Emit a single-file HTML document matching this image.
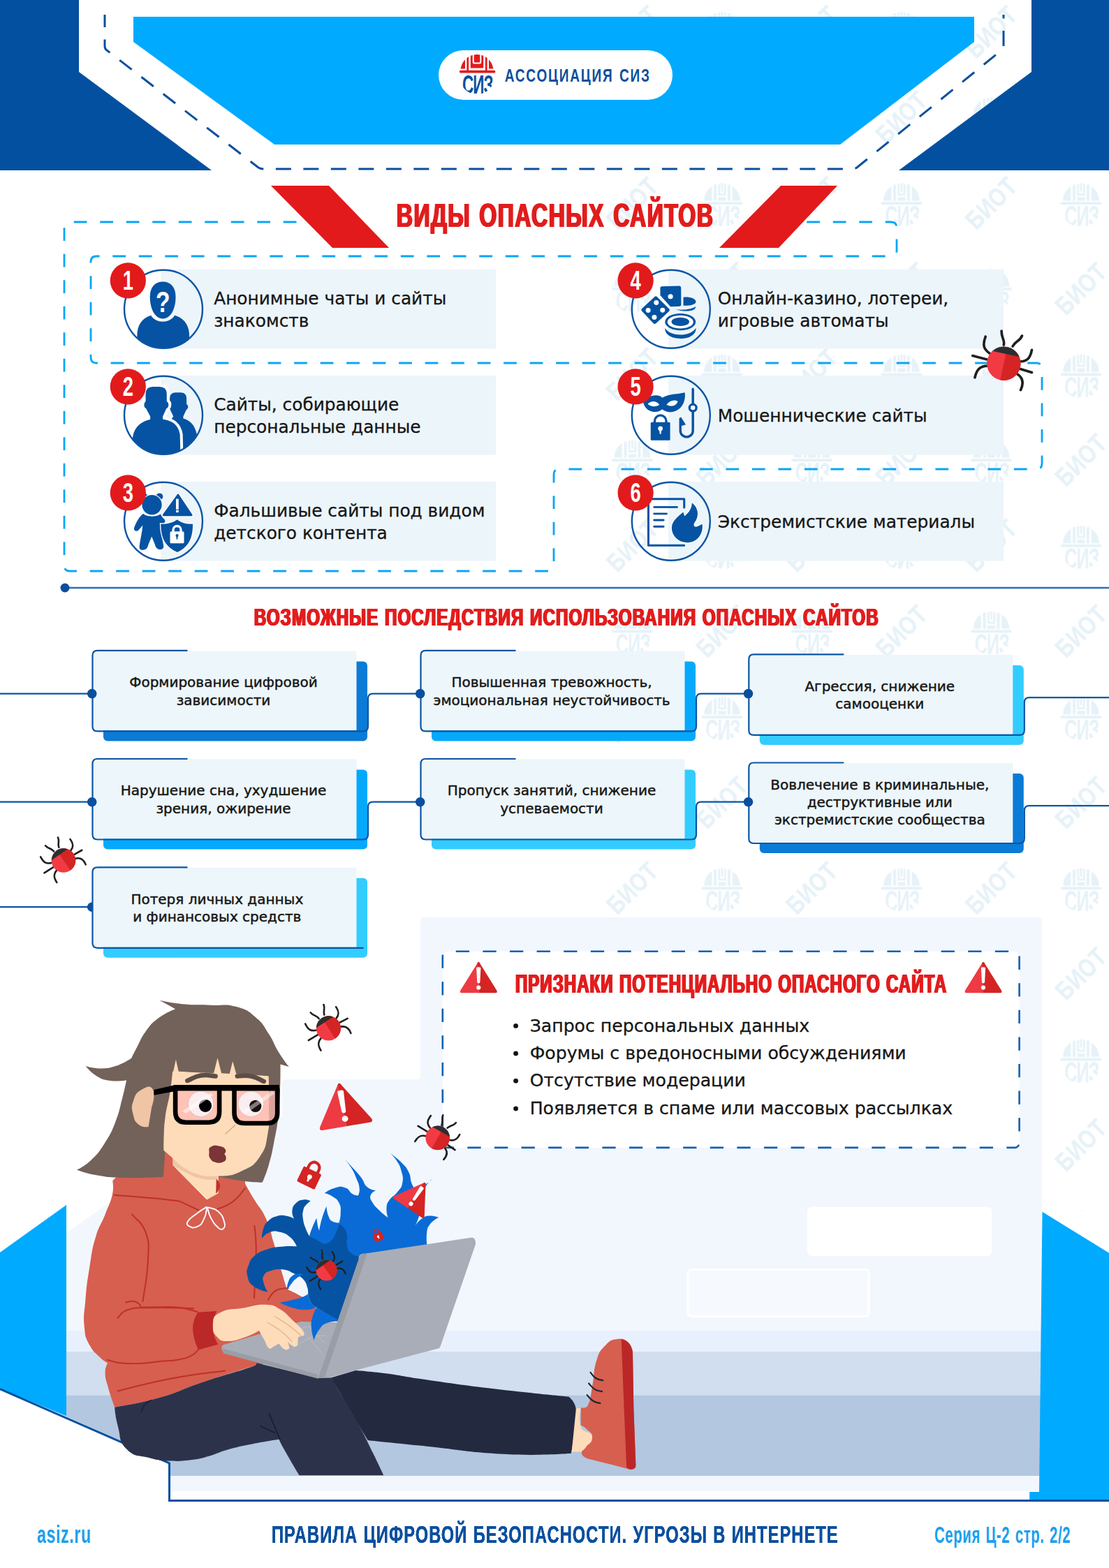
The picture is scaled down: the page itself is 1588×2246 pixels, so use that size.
<!DOCTYPE html>
<html lang="ru">
<head>
<meta charset="utf-8">
<title>Правила цифровой безопасности. Угрозы в интернете</title>
<style>
html,body{margin:0;padding:0;background:#fff;}
body{width:1588px;height:2246px;overflow:hidden;font-family:"DejaVu Sans","Liberation Sans",sans-serif;}
svg{display:block;position:absolute;left:0;top:0;}
.hd{font-family:"DejaVu Sans Condensed","DejaVu Sans","Liberation Sans",sans-serif;font-weight:700;}
.hl{font-family:"Liberation Sans","DejaVu Sans",sans-serif;font-weight:700;}
.bt{font-family:"DejaVu Sans","Liberation Sans",sans-serif;font-weight:400;fill:#161616;stroke:#161616;stroke-width:.3px;}
.bm{stroke-width:.45px;}
</style>
</head>
<body>
<svg width="1588" height="2246" viewBox="0 0 1588 2246">
<defs>
<filter id="fatx" x="-3%" y="-30%" width="106%" height="160%"><feOffset in="SourceGraphic" dx="-0.8" result="a"/><feOffset in="SourceGraphic" dx="0.8" result="b"/><feMerge><feMergeNode in="a"/><feMergeNode in="b"/><feMergeNode in="SourceGraphic"/></feMerge></filter>
<filter id="fatx2" x="-3%" y="-30%" width="106%" height="160%"><feOffset in="SourceGraphic" dx="-0.45" result="a"/><feOffset in="SourceGraphic" dx="0.45" result="b"/><feMerge><feMergeNode in="a"/><feMergeNode in="b"/><feMergeNode in="SourceGraphic"/></feMerge></filter>
</defs>

<defs>
<clipPath id="wmclip"><circle cx="0" cy="5.8" r="24.8"/></clipPath>
<g id="wmlogo" fill="#e6f2f8" transform="scale(1.13)">
<path d="M-23,-3 A23,23 0 0 1 -13,-21.500 V-3 Z"/>
<rect x="-10.500" y="-23.500" width="3.500" height="20.500"/>
<path d="M-5,-24.500 H-2.500 V-12 H2.500 V-24.500 H5 V-9.500 H-5 Z"/>
<rect x="-1.200" y="-25.500" width="2.400" height="11" rx="1"/>
<rect x="7" y="-23.500" width="3.500" height="20.500"/>
<path d="M23,-3 A23,23 0 0 0 13,-21.500 V-3 Z"/>
<rect x="-5" y="-7.500" width="10" height="4.500"/>
<rect x="-26" y="-1.500" width="52" height="3.500" rx="1.500"/>
<g clip-path="url(#wmclip)"><text x="0" y="0" font-family="'Liberation Sans','DejaVu Sans',sans-serif" font-weight="700" font-size="37.5" letter-spacing="-1.5" text-anchor="middle" transform="translate(0.8,29.3) scale(0.6,1)">СИЗ</text></g>
</g>
<g id="wmtext"><text x="0" y="0" transform="rotate(-45) scale(0.8,1)" font-family="'Liberation Sans','DejaVu Sans',sans-serif" font-weight="700" font-size="37" letter-spacing="1" fill="#e6f2f8" stroke="#e6f2f8" stroke-width="0.4" text-anchor="middle" dominant-baseline="central">БИОТ</text></g>
<pattern id="wm" x="905.500" y="168.300" width="257" height="245.300" patternUnits="userSpaceOnUse">
<use href="#wmlogo" transform="translate(128.5,122.65)"/>
<use href="#wmlogo" transform="translate(257,245.3)"/>
<use href="#wmlogo" transform="translate(0,245.3)"/>
<use href="#wmlogo" transform="translate(0,0)"/>
<use href="#wmlogo" transform="translate(257,0)"/>
<use href="#wmtext" transform="translate(128.5,0)"/>
<use href="#wmtext" transform="translate(128.5,245.3)"/>
<use href="#wmtext" transform="translate(0,122.65)"/>
<use href="#wmtext" transform="translate(257,122.65)"/>
</pattern>
</defs>
<rect x="860" y="0" width="728" height="1735" fill="url(#wm)"/>

<!-- header -->
<g id="header">
<polygon points="0,0 113,0 113,103 303,244 0,244" fill="#0450a0"/>
<polygon points="1477,0 1588,0 1588,244 1287,244 1477,103" fill="#0450a0"/>
<polygon points="191,24 1395,24 1395,60 1203,207 393,207 191,60" fill="#00aaff"/>
<path d="M150,21 V66 Q150,70 153,72 L370,240 Q373,242 377,242 H1220 Q1224,242 1227,240 L1434,72 Q1437,70 1437,66 V21" fill="none" stroke="#0a4f9e" stroke-width="3" stroke-dasharray="22 17.5" stroke-dashoffset="4"/>
<rect x="628" y="72" width="335" height="71" rx="35.5" fill="#fff"/>
</g>

<g id="logo">
<defs><clipPath id="lgclip"><path d="M659.500,101.500 A23.500,23.500 0 0 1 706.500,101.500 Z"/></clipPath>
<clipPath id="lgclip2"><circle cx="683" cy="110.3" r="24.8"/></clipPath></defs>
<g clip-path="url(#lgclip)" fill="#e21a1c">
<rect x="659" y="76" width="7" height="22.500"/>
<rect x="668.400" y="76" width="2.700" height="26"/>
<rect x="694.900" y="76" width="2.700" height="26"/>
<rect x="700" y="76" width="7" height="22.500"/>
<path d="M673.800,76 H676.700 V89 Q676.700,91.500 679.200,91.500 H686.800 Q689.300,91.500 689.300,89 V76 H692.200 V97.500 H673.800 Z"/>
<rect x="678.700" y="77.500" width="8.600" height="12" rx="1.500"/>
</g>
<rect x="657.800" y="100.800" width="51.600" height="3.700" rx="1.800" fill="#e21a1c"/>
<g clip-path="url(#lgclip2)">
<text x="0" y="0" font-family="'Liberation Sans','DejaVu Sans',sans-serif" font-weight="700" font-size="37.5" fill="#0a4f9e" text-anchor="middle" letter-spacing="-1.5" transform="translate(683.8,133.8) scale(0.6,1)">СИЗ</text>
</g>
</g>

<g id="items">
<path d="M470,318 H100 Q92,318 92,326 V810 Q92,818 100,818 H785 Q793,818 793,810 V680 Q793,672 801,672 H1484 Q1492,672 1492,664 V528 Q1492,520 1484,520 H138 Q130,520 130,512 V375 Q130,367 138,367 H1276 Q1284,367 1284,359 V326 Q1284,318 1276,318 H1125" fill="none" stroke="#0aa6f6" stroke-width="2.8" stroke-dasharray="18.75 18.75" stroke-dashoffset="-8"/>
<rect x="230.3" y="386.0" width="480" height="113.5" fill="#ecf5fa"/>
<text class="bt" x="306.2" y="436.1" font-size="24.8">Анонимные чаты и сайты</text>
<text class="bt" x="306.2" y="468.0" font-size="24.8">знакомств</text>
<rect x="230.3" y="538.0" width="480" height="113.5" fill="#ecf5fa"/>
<text class="bt" x="306.2" y="588.1" font-size="24.8">Сайты, собирающие</text>
<text class="bt" x="306.2" y="620.0" font-size="24.8">персональные данные</text>
<rect x="230.3" y="690.0" width="480" height="113.5" fill="#ecf5fa"/>
<text class="bt" x="306.2" y="740.1" font-size="24.8">Фальшивые сайты под видом</text>
<text class="bt" x="306.2" y="772.0" font-size="24.8">детского контента</text>
<rect x="957.1" y="386.0" width="480" height="113.5" fill="#ecf5fa"/>
<text class="bt" x="1027.8" y="436.1" font-size="24.8">Онлайн-казино, лотереи,</text>
<text class="bt" x="1027.8" y="468.0" font-size="24.8">игровые автоматы</text>
<rect x="957.1" y="538.0" width="480" height="113.5" fill="#ecf5fa"/>
<text class="bt" x="1027.8" y="604.0" font-size="24.8">Мошеннические сайты</text>
<rect x="957.1" y="690.0" width="480" height="113.5" fill="#ecf5fa"/>
<text class="bt" x="1027.8" y="756.0" font-size="24.8">Экстремистские материалы</text>
</g>
<g id="paras">
<polygon points="388,266 471,266 557,355 476,355" fill="#e21a1c"/>
<polygon points="1118,266 1199,266 1115,355 1030,355" fill="#e21a1c"/>
</g>

<g id="icons" fill="#0653a3">
<defs>
<clipPath id="icclip"><circle cx="892.5" cy="770" r="600"/></clipPath>
</defs>
<!-- icon 1: anonymous person -->
<g transform="translate(150,370) scale(0.094455)">
<g clip-path="url(#icclip)">
<path d="M700,865 C560,905 480,1030 492,1200 L560,1450 L1220,1450 L1282,1200 C1290,1030 1210,905 1060,865 C1020,930 950,960 880,960 C810,960 740,930 700,865 Z"/>
</g>
<path d="M880,355 C1000,355 1075,440 1075,585 C1075,765 1000,915 880,915 C760,915 685,765 685,585 C685,440 760,355 880,355 Z"/>
</g>
<text x="233.2" y="447" font-family="'Liberation Sans','DejaVu Sans',sans-serif" font-weight="700" font-size="42" fill="#fff" text-anchor="middle" transform="translate(233.2,0) scale(0.8,1) translate(-233.2,0)">?</text>
<!-- icon 2: two people -->
<g transform="translate(150,522) scale(0.094455)">
<g clip-path="url(#icclip)">
<path d="M1075,425 H1150 Q1240,425 1240,515 V600 Q1272,620 1260,662 Q1252,682 1235,690 L1190,790 V820 C1290,845 1370,920 1395,1060 L1400,1400 L1100,1400 L1010,830 L1040,790 L980,660 Q968,640 985,600 V515 Q985,425 1075,425 Z"/>
<path d="M730,340 H830 Q940,340 940,450 V560 Q978,580 962,640 Q952,662 935,668 L880,790 V830 C1010,850 1110,900 1140,1060 L1150,1450 L400,1450 L425,1100 C445,950 560,860 690,835 V790 L625,668 Q593,650 598,600 Q605,570 620,560 V450 Q620,340 730,340 Z" stroke="#fff" stroke-width="84" paint-order="stroke"/>
</g>
</g>
<!-- icon 3: teddy + warning + shield -->
<g transform="translate(150,674) scale(0.094455)">
<circle cx="830" cy="395" r="52"/>
<circle cx="600" cy="400" r="52"/>
<path d="M585,655 C520,700 470,800 445,870 C435,915 485,935 515,900 L575,830 C565,950 537,1050 525,1150 C520,1200 560,1212 600,1202 C640,1195 650,1160 662,1120 L712,1000 L760,1120 C772,1170 800,1202 850,1197 C890,1190 897,1160 887,1120 L835,830 L905,790 C925,770 912,740 882,720 L842,660 C800,705 640,712 585,655 Z"/>
<circle cx="715" cy="520" r="150" stroke="#fff" stroke-width="26" paint-order="stroke"/>
<path d="M1100,360 Q1112,345 1124,362 L1325,665 Q1338,690 1310,692 H895 Q866,690 880,665 Z" stroke="#fff" stroke-width="24" paint-order="stroke"/>
<rect x="1080" y="430" width="40" height="160" rx="6" fill="#fff"/>
<rect x="1080" y="600" width="40" height="36" rx="6" fill="#fff"/>
<path d="M1100,745 C1020,800 930,815 850,810 C850,1000 900,1150 1100,1240 C1290,1150 1335,1000 1335,810 C1260,815 1170,800 1100,745 Z" stroke="#fff" stroke-width="30" paint-order="stroke"/>
<rect x="990" y="925" width="212" height="178" rx="16" fill="#fff"/>
<path d="M1038,930 V900 A58,58 0 0 1 1154,900 V930" fill="none" stroke="#fff" stroke-width="36"/>
<circle cx="1096" cy="985" r="22"/>
<path d="M1082,990 H1110 L1103,1045 H1089 Z"/>
</g>
<!-- icon 4: dice + chips -->
<g transform="translate(876,370) scale(0.094455)">
<path d="M1085,590 C1180,580 1275,610 1275,660 C1275,700 1200,722 1085,718 Z"/>
<path d="M950,770 C1050,790 1200,780 1272,730 C1280,790 1150,830 950,770 Z"/>
<path d="M760,425 L1025,418 Q1050,418 1050,445 L1052,700 Q1052,728 1025,728 L890,732 L735,560 L735,450 Q735,425 760,425 Z"/>
<circle cx="890" cy="580" r="38" fill="#fff"/>
<path d="M648,585 Q668,565 688,585 L868,765 Q888,785 868,805 L672,985 Q650,1005 630,985 L455,800 Q437,780 457,762 Z" stroke="#fff" stroke-width="22" paint-order="stroke"/>
<circle cx="675" cy="672" r="37" fill="#fff"/>
<circle cx="552" cy="790" r="37" fill="#fff"/>
<circle cx="770" cy="785" r="37" fill="#fff"/>
<circle cx="645" cy="895" r="37" fill="#fff"/>
<path d="M808,1060 C850,1130 950,1160 1040,1160 C1130,1160 1240,1125 1275,1055 C1285,1150 1180,1218 1040,1218 C900,1218 800,1150 808,1060 Z"/>
<ellipse cx="1040" cy="965" rx="232" ry="128"/>
<ellipse cx="1040" cy="965" rx="196" ry="100" fill="#fff"/>
<ellipse cx="1040" cy="962" rx="135" ry="66"/>
</g>
<!-- icon 5: mask + lock + hook -->
<g transform="translate(876,522) scale(0.094455)">
<path d="M480,590 C470,500 690,420 765,505 C860,445 1000,450 1108,425 C1125,560 1060,700 905,722 C845,728 795,705 765,680 C730,712 680,728 620,716 C540,700 500,650 480,590 Z"/>
<path d="M545,602 C590,545 680,545 722,612 C680,645 600,652 545,602 Z" fill="#fff"/>
<path d="M830,612 C880,542 950,530 1002,560 C980,625 900,652 830,612 Z" fill="#fff"/>
<rect x="590" y="875" width="295" height="277" rx="16"/>
<path d="M650,885 V860 A88,88 0 0 1 826,860 V885" fill="none" stroke="#0653a3" stroke-width="36"/>
<circle cx="737" cy="972" r="36" fill="#fff"/>
<path d="M720,985 H754 L746,1055 H728 Z" fill="#fff"/>
<path d="M1230,372 V1005 A95,95 0 0 1 1040,1005 V830" fill="none" stroke="#0653a3" stroke-width="36" stroke-linecap="round"/>
<path d="M1022,815 L1050,800 L1122,912 L1058,932 Z"/>
<circle cx="1230" cy="657" r="52" fill="#fff" stroke="#0653a3" stroke-width="36"/>
</g>
<!-- icon 6: document + flame -->
<g transform="translate(876,674) scale(0.094455)">
<path d="M1098,560 V432 H555 V1135 H1098" fill="none" stroke="#0653a3" stroke-width="32" stroke-linecap="round" stroke-linejoin="round"/>
<path d="M642,555 H990 M642,655 H832 M642,752 H785 M642,850 H785" fill="none" stroke="#0653a3" stroke-width="30" stroke-linecap="round"/>
<path d="M1215,490 C1310,560 1335,690 1252,795 C1232,832 1252,862 1292,850 C1332,838 1358,812 1372,815 C1392,950 1300,1092 1150,1092 C1000,1092 900,980 910,850 C920,760 1000,700 1082,630 C1092,650 1097,670 1102,692 C1170,640 1215,570 1215,490 Z" stroke="#fff" stroke-width="30" paint-order="stroke"/>
</g>
</g>

<g id="itemtops">
<circle cx="234" cy="442.7" r="56" fill="none" stroke="#0a55a5" stroke-width="2.4"/>
<circle cx="183.3" cy="401.9" r="25.6" fill="#e21a1c"/>
<text class="hl" x="183.3" y="415.2" font-size="38" fill="#fff" text-anchor="middle" transform="translate(183.3,0) scale(0.72,1) translate(-183.3,0)">1</text>
<circle cx="234" cy="594.7" r="56" fill="none" stroke="#0a55a5" stroke-width="2.4"/>
<circle cx="183.3" cy="553.9" r="25.6" fill="#e21a1c"/>
<text class="hl" x="183.3" y="567.2" font-size="38" fill="#fff" text-anchor="middle" transform="translate(183.3,0) scale(0.72,1) translate(-183.3,0)">2</text>
<circle cx="234" cy="746.7" r="56" fill="none" stroke="#0a55a5" stroke-width="2.4"/>
<circle cx="183.3" cy="705.9" r="25.6" fill="#e21a1c"/>
<text class="hl" x="183.3" y="719.2" font-size="38" fill="#fff" text-anchor="middle" transform="translate(183.3,0) scale(0.72,1) translate(-183.3,0)">3</text>
<circle cx="960.8" cy="442.7" r="56" fill="none" stroke="#0a55a5" stroke-width="2.4"/>
<circle cx="910.1" cy="401.9" r="25.6" fill="#e21a1c"/>
<text class="hl" x="910.1" y="415.2" font-size="38" fill="#fff" text-anchor="middle" transform="translate(910.1,0) scale(0.72,1) translate(-910.1,0)">4</text>
<circle cx="960.8" cy="594.7" r="56" fill="none" stroke="#0a55a5" stroke-width="2.4"/>
<circle cx="910.1" cy="553.9" r="25.6" fill="#e21a1c"/>
<text class="hl" x="910.1" y="567.2" font-size="38" fill="#fff" text-anchor="middle" transform="translate(910.1,0) scale(0.72,1) translate(-910.1,0)">5</text>
<circle cx="960.8" cy="746.7" r="56" fill="none" stroke="#0a55a5" stroke-width="2.4"/>
<circle cx="910.1" cy="705.9" r="25.6" fill="#e21a1c"/>
<text class="hl" x="910.1" y="719.2" font-size="38" fill="#fff" text-anchor="middle" transform="translate(910.1,0) scale(0.72,1) translate(-910.1,0)">6</text>
</g>
<g id="conseq">
<line x1="92" y1="842" x2="1588" y2="842" stroke="#2f6db5" stroke-width="2.4"/>
<circle cx="93" cy="842" r="6.5" fill="#0a4f9e"/>
<line x1="0" y1="993.6" x2="132.5" y2="993.6" stroke="#0a55a5" stroke-width="2.2"/>
<rect x="148.0" y="947.4" width="378" height="114" rx="6" fill="#0a7bd6"/>
<rect x="132.5" y="932.4" width="378" height="114" fill="#edf6fa"/>
<path d="M268.5,931.9 H139.5 Q132.5,931.9 132.5,938.9 V1040.4 Q132.5,1047.4 139.5,1047.4 H520.0 Q527.0,1047.4 527.0,1040.4 V1000.6 Q527.0,993.6 534.0,993.6 H602.5" fill="none" stroke="#0a55a5" stroke-width="2.2"/>
<circle cx="131.7" cy="993.6" r="6.8" fill="#0a4f9e"/>
<text class="bt bm" x="320.0" y="984.1" font-size="20" text-anchor="middle">Формирование цифровой</text>
<text class="bt bm" x="320.0" y="1009.5" font-size="20" text-anchor="middle">зависимости</text>
<rect x="618.0" y="947.4" width="378" height="114" rx="6" fill="#05a9fb"/>
<rect x="602.5" y="932.4" width="378" height="114" fill="#edf6fa"/>
<path d="M738.5,931.9 H609.5 Q602.5,931.9 602.5,938.9 V1040.4 Q602.5,1047.4 609.5,1047.4 H990.0 Q997.0,1047.4 997.0,1040.4 V1000.6 Q997.0,993.6 1004.0,993.6 H1072.3" fill="none" stroke="#0a55a5" stroke-width="2.2"/>
<circle cx="601.7" cy="993.6" r="6.8" fill="#0a4f9e"/>
<text class="bt bm" x="790.0" y="984.1" font-size="20" text-anchor="middle">Повышенная тревожность,</text>
<text class="bt bm" x="790.0" y="1009.5" font-size="20" text-anchor="middle">эмоциональная неустойчивость</text>
<rect x="1087.8" y="952.9" width="378" height="114" rx="6" fill="#33ccff"/>
<rect x="1072.3" y="937.9" width="378" height="114" fill="#edf6fa"/>
<path d="M1208.3,937.4 H1079.3 Q1072.3,937.4 1072.3,944.4 V1045.9 Q1072.3,1052.9 1079.3,1052.9 H1459.8 Q1466.8,1052.9 1466.8,1045.9 V1006.1 Q1466.8,999.1 1473.8,999.1 H1588.0" fill="none" stroke="#0a55a5" stroke-width="2.2"/>
<circle cx="1071.5" cy="993.6" r="6.8" fill="#0a4f9e"/>
<text class="bt bm" x="1259.8" y="989.6" font-size="20" text-anchor="middle">Агрессия, снижение</text>
<text class="bt bm" x="1259.8" y="1015.0" font-size="20" text-anchor="middle">самооценки</text>
<line x1="0" y1="1148.7" x2="132.5" y2="1148.7" stroke="#0a55a5" stroke-width="2.2"/>
<rect x="148.0" y="1102.5" width="378" height="114" rx="6" fill="#05a9fb"/>
<rect x="132.5" y="1087.5" width="378" height="114" fill="#edf6fa"/>
<path d="M268.5,1087.0 H139.5 Q132.5,1087.0 132.5,1094.0 V1195.5 Q132.5,1202.5 139.5,1202.5 H520.0 Q527.0,1202.5 527.0,1195.5 V1155.7 Q527.0,1148.7 534.0,1148.7 H602.5" fill="none" stroke="#0a55a5" stroke-width="2.2"/>
<circle cx="131.7" cy="1148.7" r="6.8" fill="#0a4f9e"/>
<text class="bt bm" x="320.0" y="1139.2" font-size="20" text-anchor="middle">Нарушение сна, ухудшение</text>
<text class="bt bm" x="320.0" y="1164.6" font-size="20" text-anchor="middle">зрения, ожирение</text>
<rect x="618.0" y="1102.5" width="378" height="114" rx="6" fill="#33ccff"/>
<rect x="602.5" y="1087.5" width="378" height="114" fill="#edf6fa"/>
<path d="M738.5,1087.0 H609.5 Q602.5,1087.0 602.5,1094.0 V1195.5 Q602.5,1202.5 609.5,1202.5 H990.0 Q997.0,1202.5 997.0,1195.5 V1155.7 Q997.0,1148.7 1004.0,1148.7 H1072.3" fill="none" stroke="#0a55a5" stroke-width="2.2"/>
<circle cx="601.7" cy="1148.7" r="6.8" fill="#0a4f9e"/>
<text class="bt bm" x="790.0" y="1139.2" font-size="20" text-anchor="middle">Пропуск занятий, снижение</text>
<text class="bt bm" x="790.0" y="1164.6" font-size="20" text-anchor="middle">успеваемости</text>
<rect x="1087.8" y="1108.0" width="378" height="114" rx="6" fill="#0a7bd6"/>
<rect x="1072.3" y="1093.0" width="378" height="114" fill="#edf6fa"/>
<path d="M1208.3,1092.5 H1079.3 Q1072.3,1092.5 1072.3,1099.5 V1201.0 Q1072.3,1208.0 1079.3,1208.0 H1459.8 Q1466.8,1208.0 1466.8,1201.0 V1161.2 Q1466.8,1154.2 1473.8,1154.2 H1588.0" fill="none" stroke="#0a55a5" stroke-width="2.2"/>
<circle cx="1071.5" cy="1148.7" r="6.8" fill="#0a4f9e"/>
<text class="bt bm" x="1259.8" y="1131.2" font-size="20" text-anchor="middle">Вовлечение в криминальные,</text>
<text class="bt bm" x="1259.8" y="1156.4" font-size="20" text-anchor="middle">деструктивные или</text>
<text class="bt bm" x="1259.8" y="1181.4" font-size="20" text-anchor="middle">экстремистские сообщества</text>
<line x1="0" y1="1299.2" x2="132.5" y2="1299.2" stroke="#0a55a5" stroke-width="2.2"/>
<circle cx="131.7" cy="1299.2" r="6.8" fill="#0a4f9e"/>
<rect x="148.0" y="1257.8" width="378" height="114" rx="6" fill="#33ccff"/>
<rect x="132.5" y="1242.8" width="378" height="114" fill="#edf6fa"/>
<path d="M268.5,1242.3 H139.5 Q132.5,1242.3 132.5,1249.3 V1350.8 Q132.5,1357.8 139.5,1357.8 H520.5" fill="none" stroke="#0a55a5" stroke-width="2.2"/>
<text class="bt bm" x="310.8" y="1294.5" font-size="20" text-anchor="middle">Потеря личных данных</text>
<text class="bt bm" x="310.8" y="1319.9" font-size="20" text-anchor="middle">и финансовых средств</text>
</g>
<g id="panel">
<defs><clipPath id="panelclip"><path d="M606,1314 H1488 Q1492,1314 1492,1318 V2132 Q1492,2136 1488,2136 H243 V2096 L95,2029 V1766 L156,1723 H300 V1600 H404 V1552 Q404,1546 410,1546 H598 Q602,1546 602,1542 V1318 Q602,1314 606,1314 Z"/></clipPath></defs>
<g clip-path="url(#panelclip)">
<rect x="90" y="1310" width="1410" height="830" fill="#f2f7fe"/>
<rect x="90" y="1906" width="1410" height="30" fill="#e9f0fd"/>
<rect x="90" y="1936" width="1410" height="62.5" fill="#d0deef"/>
<rect x="90" y="1998.500" width="1410" height="115.5" fill="#b3c7e0"/>
</g>
<rect x="1155.800" y="1728.800" width="264.5" height="70.5" rx="7" fill="#fff"/>
<rect x="985" y="1818.500" width="259" height="67" rx="5" fill="#f6f9fe" stroke="#fff" stroke-width="3"/>
<polygon points="0,1794 95,1726 95,2028.500 0,1989" fill="#00aaff"/>
<polygon points="1492.500,1735.700 1588,1794.700 1588,2149 1474.200,2149 1474.200,2137 1488,2137 Q1492.500,2137 1492.500,2132" fill="#00aaff"/>
<path d="M0,1989.500 L242.500,2096 V2149.500 H1588" fill="none" stroke="#0450a0" stroke-width="3"/>
</g>

<g id="signs">
<rect x="633.800" y="1362.700" width="825.800" height="281.200" rx="7" fill="#fff" stroke="#1560b0" stroke-width="2.6" stroke-dasharray="19.3 19.3" stroke-dashoffset="-12"/>
<g class="bt" font-size="25.15" fill="#111">
<circle cx="738.600" cy="1469.500" r="3.300" fill="#111"/>
<circle cx="738.600" cy="1509" r="3.300" fill="#111"/>
<circle cx="738.600" cy="1548.300" r="3.300" fill="#111"/>
<circle cx="738.600" cy="1588" r="3.300" fill="#111"/>
<text x="758.700" y="1477.600">Запрос персональных данных</text>
<text x="758.700" y="1517">Форумы с вредоносными обсуждениями</text>
<text x="758.700" y="1556.300">Отсутствие модерации</text>
<text x="758.700" y="1596">Появляется в спаме или массовых рассылках</text>
</g>
</g>

<g id="girl">
<path d="M161.2,1691.6L200.0,1650.0L225.0,1640.0L236.0,1646.0L247.8,1659.3L247.8,1669.1L296.1,1718.2L309.2,1708.4L310.0,1685.5L351.0,1689.6L351.0,1695.6C351.0,1695.6 357.3,1707.1 364.1,1718.2C372.1,1731.5 374.1,1730.3 380.4,1744.4C388.1,1761.4 386.6,1762.1 391.9,1780.0C398.0,1800.6 397.4,1800.8 403.3,1821.5C406.9,1834.2 410.8,1846.7 410.8,1846.7C410.8,1846.7 436.9,1856.8 451.1,1871.9C458.1,1879.3 453.7,1892.0 453.7,1892.0L451.1,1890.4L451.1,1940.8L365.2,1956.1C365.2,1956.1 365.3,1956.0 365.2,1956.0C340.1,1964.0 327.2,1967.3 289.7,1980.0C258.0,1990.6 258.9,1993.5 226.7,2002.6C196.0,2011.4 164.2,2015.7 164.2,2015.7C164.2,2015.7 158.3,2000.6 154.2,1985.0C151.5,1975.1 150.6,1975.1 150.6,1964.9C150.6,1958.3 154.2,1952.3 154.2,1952.3C154.2,1952.3 148.2,1949.3 143.6,1944.7C135.3,1936.6 133.9,1937.3 128.5,1927.1C122.3,1915.5 122.2,1915.0 120.9,1901.9C119.0,1883.1 120.6,1882.9 122.2,1864.1C124.3,1838.8 124.4,1838.8 128.5,1813.7C132.0,1792.2 131.0,1791.8 137.3,1770.9C142.4,1753.9 144.7,1754.7 151.1,1738.2C156.7,1723.9 158.0,1724.2 161.2,1709.2C163.1,1700.6 161.2,1691.6 161.2,1691.6Z" fill="#d65f50"/>
<path d="M163.7,1711.7C193.4,1714.4 217.6,1715.0 252.7,1719.9C261.5,1721.1 261.0,1723.0 269.1,1726.4C276.7,1729.7 279.2,1731.0 284.2,1733.3" fill="none" stroke="#c0302b" stroke-width="2.0" stroke-linecap="round" stroke-linejoin="round"/>
<path d="M311.7,1731.7C316.0,1729.9 318.6,1729.8 324.8,1726.4C331.8,1722.6 332.1,1722.8 337.9,1717.4C345.3,1710.5 346.6,1707.0 351.0,1701.9" fill="none" stroke="#c0302b" stroke-width="2.0" stroke-linecap="round" stroke-linejoin="round"/>
<path d="M188.9,1739.4C195.2,1747.4 202.4,1749.1 207.8,1763.4C214.5,1781.1 212.7,1782.1 212.1,1801.1C211.1,1832.8 207.1,1843.1 204.5,1864.1" fill="none" stroke="#c0302b" stroke-width="2.0" stroke-linecap="round" stroke-linejoin="round"/>
<path d="M168.3,1888.0C172.6,1884.3 173.1,1879.4 181.4,1876.7C196.6,1871.7 197.6,1873.6 214.1,1873.2C245.6,1872.3 256.1,1873.8 277.1,1874.2" fill="none" stroke="#c0302b" stroke-width="2.0" stroke-linecap="round" stroke-linejoin="round"/>
<path d="M180.1,1865.4C183.9,1864.9 185.8,1863.3 191.4,1864.1C195.9,1864.7 196.0,1865.3 199.5,1868.1C201.5,1869.8 201.2,1871.2 202.0,1872.7" fill="none" stroke="#c0302b" stroke-width="2.0" stroke-linecap="round" stroke-linejoin="round"/>
<path d="M168.3,1992.6C183.5,1988.8 191.1,1986.4 214.1,1981.2C239.2,1975.7 239.1,1975.3 264.5,1971.2C293.3,1966.5 303.1,1966.1 322.4,1963.6" fill="none" stroke="#c0302b" stroke-width="2.0" stroke-linecap="round" stroke-linejoin="round"/>
<path d="M364.4,1755.9C365.1,1763.9 366.0,1767.9 366.5,1780.0C367.0,1790.5 366.8,1790.5 366.5,1801.1C365.6,1827.5 364.8,1839.8 364.0,1859.1" fill="none" stroke="#c0302b" stroke-width="2.0" stroke-linecap="round" stroke-linejoin="round"/>
<path d="M383.8,1862.0C386.9,1858.0 387.0,1854.7 392.9,1850.1C397.6,1846.3 398.3,1847.2 404.2,1845.7C408.4,1844.7 409.9,1845.4 412.7,1845.2" fill="none" stroke="#c0302b" stroke-width="2.0" stroke-linecap="round" stroke-linejoin="round"/>
<path d="M153.4,1947.8C159.6,1949.3 162.6,1951.3 172.2,1952.3C186.3,1953.8 186.4,1953.4 200.6,1952.9C214.8,1952.3 214.7,1951.4 228.9,1950.0C243.1,1948.6 243.3,1950.0 257.3,1947.2C267.1,1945.2 267.3,1945.2 276.1,1940.6C280.8,1938.2 281.2,1935.8 283.7,1933.4" fill="none" stroke="#c0302b" stroke-width="2.0" stroke-linecap="round" stroke-linejoin="round"/>
<path d="M204.0,1872.6C212.3,1872.4 216.4,1872.1 228.9,1872.2C243.1,1872.3 243.2,1871.1 257.3,1872.9C270.3,1874.6 274.3,1877.1 282.8,1879.2" fill="none" stroke="#c0302b" stroke-width="2.0" stroke-linecap="round" stroke-linejoin="round"/>
<path d="M295.6,1728.9C291.2,1731.9 288.6,1732.9 282.2,1737.9C275.3,1743.2 273.2,1743.3 269.1,1749.3C267.3,1752.1 267.1,1754.2 269.9,1755.9C274.3,1758.5 276.6,1759.7 282.2,1757.2C289.0,1754.2 288.6,1752.7 292.0,1746.1C295.9,1738.7 294.9,1735.4 296.3,1730.0" fill="none" stroke="#fff" stroke-width="1.9" stroke-linecap="round" stroke-linejoin="round"/>
<path d="M296.9,1729.7C298.6,1734.6 298.1,1737.6 301.9,1744.4C306.4,1752.6 307.4,1754.0 313.3,1759.2C315.7,1761.2 317.2,1762.1 319.5,1760.0C322.3,1757.5 322.7,1755.8 321.5,1751.8C319.2,1743.6 319.3,1741.9 312.5,1735.4C306.8,1730.0 302.8,1731.4 297.9,1729.4" fill="none" stroke="#fff" stroke-width="1.9" stroke-linecap="round" stroke-linejoin="round"/>
<path d="M228.5,1432.7C228.5,1432.7 244.7,1436.6 261.2,1438.2C281.3,1440.1 281.4,1438.7 301.5,1439.7C320.4,1440.7 321.0,1437.2 339.3,1442.2C354.6,1446.5 354.9,1447.6 367.0,1457.9C378.0,1467.1 376.8,1468.5 384.6,1480.5C393.2,1493.8 391.5,1494.8 399.7,1508.2C406.0,1518.5 413.6,1527.9 413.6,1527.9L401.5,1524.6C401.5,1524.6 401.7,1542.9 401.0,1561.1C400.2,1580.1 400.7,1580.1 398.5,1598.9C396.3,1617.9 395.9,1617.9 392.2,1636.7C389.0,1653.2 389.3,1653.3 384.6,1669.4C381.1,1681.7 375.8,1693.4 375.8,1693.4L373.9,1693.7C373.9,1693.7 362.4,1693.5 351.0,1692.0C331.2,1689.4 311.7,1685.5 311.7,1685.5L276.3,1636.7L237.3,1636.7L234.0,1685.8C234.0,1685.8 204.8,1687.8 175.6,1687.1C156.6,1686.6 156.5,1686.5 137.8,1683.3C123.6,1680.9 110.1,1675.7 110.1,1675.7C110.1,1675.7 121.4,1670.4 130.2,1661.9C141.8,1650.7 141.7,1650.3 150.4,1636.7C159.4,1622.4 159.4,1622.2 165.5,1606.5C172.1,1589.4 170.9,1588.9 175.6,1571.2C178.7,1559.3 181.1,1547.3 181.1,1547.3C181.1,1547.3 169.4,1549.7 157.9,1548.0C147.4,1546.5 147.0,1546.4 137.8,1541.0C129.0,1535.8 122.7,1527.1 122.7,1527.1C122.7,1527.1 132.6,1530.4 142.8,1530.4C154.3,1530.4 154.6,1530.6 165.5,1527.1C177.6,1523.2 188.2,1515.8 188.2,1515.8C188.2,1515.8 192.3,1506.9 197.0,1498.2C202.4,1488.0 201.4,1487.3 208.3,1478.0C216.0,1467.6 215.7,1467.0 225.9,1459.1C237.4,1450.4 251.1,1445.3 251.1,1445.3L228.5,1432.7Z" fill="#73625a"/>
<path d="M218.9,1560.6C215.2,1553.8 210.1,1556.8 203.3,1560.6C194.7,1565.5 194.5,1566.9 191.2,1576.2C187.8,1585.8 188.4,1586.6 190.7,1596.4C192.7,1604.9 192.7,1606.0 199.5,1611.5C204.7,1615.7 212.6,1614.0 212.6,1614.0L217.1,1586.3C217.1,1586.3 223.5,1569.2 218.9,1560.6Z" fill="#efc5a6"/>
<path d="M247.5,1656.8 L312.7,1680.6 L312.7,1709.2 L296.1,1718.6 L247.5,1669.1Z" fill="#ffdcb9"/>
<path d="M247.8,1658.0C247.8,1658.0 257.6,1667.0 269.1,1673.2C279.1,1678.6 279.3,1678.5 290.4,1680.9C300.8,1683.2 311.7,1682.5 311.7,1682.5L311.0,1689.6C311.0,1689.6 300.5,1690.9 290.4,1688.8C279.3,1686.5 279.4,1685.7 269.1,1680.9C258.1,1675.8 247.8,1669.1 247.8,1669.1L247.8,1658.0Z" fill="#efc5a6"/>
<path d="M309.7,1688.8C309.7,1688.8 314.1,1692.2 315.0,1696.9C315.7,1701.1 314.4,1701.2 312.7,1705.1C311.5,1707.9 309.2,1710.0 309.2,1710.0L309.7,1688.8Z" fill="#c0302b"/>
<path d="M247.4,1530.9C247.4,1530.9 246.4,1546.1 244.1,1561.1C241.0,1581.4 239.3,1581.1 236.5,1601.4C234.5,1616.4 235.2,1616.5 234.5,1631.7C234.1,1639.7 234.4,1647.8 234.4,1647.8L247.8,1659.3C247.8,1659.3 260.0,1673.3 276.3,1679.5C294.1,1686.3 295.1,1685.2 314.1,1684.6C330.9,1684.0 331.7,1684.3 346.9,1677.0C361.4,1670.0 362.9,1670.1 372.0,1656.9C381.9,1642.6 380.2,1641.1 383.4,1624.1C386.8,1605.5 384.9,1605.2 385.1,1586.3C385.5,1561.1 384.6,1535.9 384.6,1535.9L247.4,1530.9Z" fill="#ffdcb9"/>
<path d="M248.1,1534.7 L251.9,1517.8 L255.7,1534.7Z" fill="#ffdcb9"/>
<path d="M306.0,1537.2 L311.6,1515.3 L317.1,1537.2Z" fill="#ffdcb9"/>
<path d="M328.7,1538.0 L333.2,1520.3 L338.3,1538.0Z" fill="#ffdcb9"/>
<path d="M241.1,1510.8L387.2,1510.8L385.1,1541.5C385.1,1541.5 367.5,1540.1 351.9,1539.0C345.1,1538.5 338.3,1538.0 338.3,1538.0L333.2,1537.2L328.7,1538.0L317.1,1537.2L311.6,1536.7L306.0,1537.2C306.0,1537.2 291.2,1536.7 276.3,1535.9C266.0,1535.4 255.7,1534.7 255.7,1534.7L251.9,1533.9L248.1,1534.7L241.1,1535.9L241.1,1510.8Z" fill="#73625a"/>
<path d="M248.1,1534.9 L251.9,1517.8 L255.7,1534.9Z" fill="#ffdcb9"/>
<path d="M306.0,1537.5 L311.6,1515.3 L317.1,1537.5Z" fill="#ffdcb9"/>
<path d="M328.7,1538.2 L333.2,1520.3 L338.3,1538.2Z" fill="#ffdcb9"/>
<path d="M268.3,1548.0C274.7,1545.5 277.4,1542.1 287.7,1540.5C298.0,1538.8 301.6,1541.2 308.6,1541.5" fill="none" stroke="#5d4e46" stroke-width="6.5" stroke-linecap="round" stroke-linejoin="round"/>
<path d="M339.8,1541.5C346.3,1541.5 349.8,1539.6 359.4,1541.5C369.2,1543.4 371.7,1546.5 377.8,1549.0" fill="none" stroke="#5d4e46" stroke-width="6.5" stroke-linecap="round" stroke-linejoin="round"/>
<path d="M253.7,1558.6 H311.6 Q314.1,1558.6 314.1,1561.1 V1592.6 Q314.1,1607.7 299.0,1607.7 H266.2 Q251.1,1607.7 251.1,1592.6 V1561.1 Q251.1,1558.6 253.7,1558.6 Z" fill="#ffb9b4" fill-opacity="0.75"/>
<path d="M338.0,1558.6 H394.7 Q397.2,1558.6 397.2,1561.1 V1593.9 Q397.2,1609.0 382.1,1609.0 H350.6 Q335.5,1609.0 335.5,1593.9 V1561.1 Q335.5,1558.6 338.0,1558.6 Z" fill="#ffb9b4" fill-opacity="0.75"/>
<circle cx="287.7" cy="1581.3" r="18.1" fill="#fbeef0" stroke="#d9b8b8" stroke-width="0.6"/>
<circle cx="359.4" cy="1581.3" r="18.1" fill="#fbeef0" stroke="#d9b8b8" stroke-width="0.6"/>
<circle cx="294.0" cy="1583.8" r="9.1" fill="#000"/>
<circle cx="365.7" cy="1584.3" r="8.6" fill="#1a0d0d"/>
<path d="M261.2,1591.4 L301.5,1564.9 L305.3,1568.7 L266.2,1595.1Z" fill="#fff" fill-opacity="0.55"/>
<path d="M345.6,1592.6 L389.7,1562.4 L393.5,1566.2 L350.6,1596.4Z" fill="#fff" fill-opacity="0.45"/>
<path d="M253.7,1558.6 H311.6 Q314.1,1558.6 314.1,1561.1 V1592.6 Q314.1,1607.7 299.0,1607.7 H266.2 Q251.1,1607.7 251.1,1592.6 V1561.1 Q251.1,1558.6 253.7,1558.6 Z" fill="none" stroke="#000" stroke-width="6.6" stroke-linejoin="round"/>
<path d="M338.0,1558.6 H394.7 Q397.2,1558.6 397.2,1561.1 V1593.9 Q397.2,1609.0 382.1,1609.0 H350.6 Q335.5,1609.0 335.5,1593.9 V1561.1 Q335.5,1558.6 338.0,1558.6 Z" fill="none" stroke="#000" stroke-width="6.6" stroke-linejoin="round"/>
<path d="M248.6,1554.1 L399.7,1554.1 L399.7,1562.6 L248.6,1562.6Z" fill="#000"/>
<path d="M251.1,1554.1 L220.4,1561.1 L220.4,1568.7 L251.1,1563.1Z" fill="#000"/>
<path d="M336.8,1611.5C332.2,1615.7 327.5,1619.9 322.9,1624.1" fill="none" stroke="#d3a684" stroke-width="1.3" stroke-linecap="round" stroke-linejoin="round"/>
<path d="M301.5,1643.0C306.4,1640.1 307.9,1640.6 314.1,1641.7C319.1,1642.6 320.6,1643.0 322.9,1646.8C324.6,1649.6 321.2,1653.1 321.2,1653.1C321.2,1653.1 324.3,1656.0 323.7,1659.4C323.1,1662.7 322.3,1663.2 319.1,1664.4C314.4,1666.2 313.9,1666.3 309.1,1664.9C304.4,1663.6 303.7,1663.4 301.0,1659.4C298.5,1655.6 299.4,1655.0 299.5,1650.6C299.6,1646.6 298.2,1645.0 301.5,1643.0Z" fill="#7b3437"/>
<path d="M473.8,1973.5L509.1,1962.9C509.1,1962.9 530.6,1964.4 551.9,1967.2C576.0,1970.3 575.9,1971.3 600.0,1974.8C649.6,1981.9 650.3,1982.6 700.8,1988.6C757.3,1995.4 814.1,2000.5 814.1,2000.5C814.1,2000.5 821.5,2005.9 823.7,2013.8C826.7,2024.7 825.1,2025.2 824.2,2036.5C822.3,2059.1 817.9,2081.8 817.9,2081.8C817.9,2081.8 771.9,2085.5 725.9,2083.1C662.7,2079.8 663.0,2076.8 600.0,2070.5C563.3,2066.8 526.7,2062.9 526.7,2062.9L516.6,2046.5L473.8,1973.5Z" fill="#232a40"/>
<path d="M824.9,2017.6L832.2,2017.1C832.2,2017.1 827.0,2031.4 831.7,2044.0C835.7,2054.5 846.9,2048.1 848.1,2059.1C849.4,2070.9 835.5,2079.3 835.5,2079.3L818.6,2079.8L824.9,2017.6Z" fill="#ffdcb9"/>
<path d="M831.7,2016.3C831.7,2016.3 839.0,2018.2 841.3,2013.8C846.8,2003.7 845.3,2000.1 848.1,1986.1C851.9,1967.3 848.6,1966.6 854.4,1948.3C858.2,1936.5 858.2,1935.7 867.0,1926.9C874.0,1919.9 874.8,1919.2 884.6,1918.1C892.5,1917.2 893.8,1917.9 899.7,1923.1C905.5,1928.2 906.0,1937.0 906.0,1937.0L907.3,2016.3L910.3,2096.9C910.3,2096.9 911.1,2101.2 908.6,2103.2C905.6,2105.6 901.0,2104.5 901.0,2104.5L877.1,2098.2L841.8,2089.4C841.8,2089.4 834.3,2087.4 833.0,2082.3C831.8,2077.7 835.4,2078.2 838.0,2074.3C843.0,2066.6 847.7,2068.2 848.1,2059.1C848.5,2051.5 844.5,2052.2 839.3,2046.5C836.2,2043.2 831.7,2041.5 831.7,2041.5L831.7,2016.3Z" fill="#d65f50"/>
<path d="M889.7,1918.6C889.7,1918.6 896.1,1919.0 899.7,1923.1C904.8,1928.8 906.0,1937.0 906.0,1937.0L907.3,2016.3L910.3,2096.9C910.3,2096.9 911.1,2101.2 908.6,2103.2C905.6,2105.6 901.0,2104.5 901.0,2104.5L897.2,2102.0L893.5,2016.3L889.7,1918.6Z" fill="#bb2727"/>
<path d="M845.6,1965.9C848.1,1968.6 848.5,1971.0 853.1,1974.0C857.6,1976.9 859.9,1976.2 863.2,1977.3" fill="none" stroke="#1c2730" stroke-width="2.2" stroke-linecap="round" stroke-linejoin="round"/>
<path d="M843.1,1981.6C846.0,1984.4 846.7,1986.9 851.9,1990.1C856.4,1992.9 858.6,1992.1 862.0,1993.1" fill="none" stroke="#1c2730" stroke-width="2.2" stroke-linecap="round" stroke-linejoin="round"/>
<path d="M840.6,1998.2C843.5,2001.0 844.2,2003.5 849.4,2006.8C853.9,2009.6 856.1,2008.9 859.4,2010.0" fill="none" stroke="#1c2730" stroke-width="2.2" stroke-linecap="round" stroke-linejoin="round"/>
<path d="M164.2,2015.7C164.2,2015.7 196.0,2011.4 226.7,2002.6C258.9,1993.5 258.0,1990.6 289.7,1980.0C327.2,1967.3 339.3,1965.3 365.2,1956.0C367.3,1955.3 367.5,1952.3 367.5,1952.3L453.7,1973.5L476.3,1973.5C476.3,1973.5 478.2,1980.1 481.4,1986.1C488.1,1998.7 489.1,1998.6 496.5,2011.3C506.7,2028.8 507.0,2028.6 516.6,2046.5C525.9,2063.9 525.6,2064.1 534.3,2081.8C541.9,2097.5 549.4,2113.3 549.4,2113.3L428.5,2113.3C428.5,2113.3 415.4,2091.5 405.8,2074.3C402.3,2068.1 399.5,2061.7 399.5,2061.7C399.5,2061.7 381.1,2064.3 363.0,2068.0C344.0,2071.8 343.9,2071.5 325.2,2076.8C312.3,2080.4 312.8,2081.9 300.0,2085.6C288.7,2088.9 288.7,2089.4 277.1,2090.8C259.5,2092.9 259.5,2093.3 241.8,2092.6C227.8,2092.0 227.6,2092.1 214.1,2088.3C197.2,2083.6 193.8,2088.1 181.4,2075.7C169.0,2063.3 173.6,2059.8 168.8,2042.9C165.0,2029.7 164.2,2015.7 164.2,2015.7Z" fill="#2d324b"/>
<path d="M385.6,2025.1C390.7,2037.3 395.7,2049.5 400.8,2061.7" fill="none" stroke="#1a1f33" stroke-width="1.8" stroke-linecap="round" stroke-linejoin="round"/>
<path d="M373.0,2042.8C379.8,2045.9 386.5,2049.0 393.2,2052.1" fill="none" stroke="#1a1f33" stroke-width="1.8" stroke-linecap="round" stroke-linejoin="round"/>
<path d="M202.8,2022.3C204.0,2019.1 203.3,2016.7 206.5,2012.7C210.5,2008.0 213.3,2008.0 216.6,2005.7" fill="none" stroke="#1a1f33" stroke-width="1.6" stroke-linecap="round" stroke-linejoin="round"/>
<path d="M283.3,1879.7L310.5,1877.9C310.5,1877.9 304.0,1889.0 304.5,1900.9C305.0,1914.0 312.4,1925.8 312.4,1925.8L284.1,1933.4C284.1,1933.4 276.4,1918.6 276.1,1902.8C276.0,1890.7 283.3,1879.7 283.3,1879.7Z" fill="#bb2828"/>
</g>
<g id="laptop">
<path d="M493.0,1659.8C493.0,1659.8 499.8,1666.8 506.2,1674.0C512.1,1680.5 512.4,1680.3 517.6,1687.2C522.3,1693.5 520.1,1695.3 526.1,1700.5C531.1,1704.8 538.4,1705.2 538.4,1705.2C538.4,1705.2 532.5,1707.1 530.8,1711.8C529.2,1716.3 530.3,1717.1 532.7,1721.2C537.1,1728.8 537.9,1728.3 544.0,1734.5C549.2,1739.7 555.4,1743.9 555.4,1743.9C555.4,1743.9 553.0,1737.3 553.5,1730.7C553.9,1724.7 553.9,1724.3 557.3,1719.3C561.7,1712.7 563.7,1714.4 568.6,1708.0C573.2,1702.0 574.8,1702.3 576.1,1694.8C577.8,1685.4 576.8,1685.0 574.3,1675.9C572.0,1667.8 571.3,1667.9 566.7,1660.8C563.6,1656.0 559.1,1652.3 559.1,1652.3C559.1,1652.3 568.5,1658.5 576.1,1666.4C581.8,1672.3 582.2,1672.3 585.6,1679.7C588.9,1686.7 586.7,1687.5 589.4,1694.8C591.0,1699.4 594.1,1703.3 594.1,1703.3C594.1,1703.3 600.7,1701.9 606.4,1698.6C613.6,1694.3 619.6,1688.2 619.6,1688.2C619.6,1688.2 613.6,1692.4 610.2,1698.6C606.8,1704.6 607.7,1705.0 606.4,1711.8C604.9,1719.3 606.1,1719.5 604.5,1726.9C602.3,1736.5 601.9,1736.4 598.8,1745.8C597.2,1750.6 595.0,1755.2 595.0,1755.2C595.0,1755.2 598.0,1750.1 602.6,1746.7C607.6,1743.1 607.8,1742.3 613.9,1741.6C621.1,1740.8 628.1,1743.9 628.1,1743.9C628.1,1743.9 620.5,1747.2 615.8,1753.4C611.6,1759.0 611.9,1759.6 611.1,1766.6C609.9,1776.9 612.0,1787.4 612.0,1787.4L510.0,1804.4L472.2,1791.1L443.0,1770.4C443.0,1770.4 445.0,1763.6 447.7,1757.1C450.2,1750.9 453.4,1744.8 453.4,1744.8C453.4,1744.8 454.0,1751.1 455.2,1757.1C455.9,1760.1 457.1,1762.8 457.1,1762.8C457.1,1762.8 458.4,1754.1 460.9,1745.8C463.6,1736.6 467.5,1727.8 467.5,1727.8C467.5,1727.8 467.7,1735.3 470.4,1742.0C472.1,1746.4 472.0,1747.1 476.0,1749.6C480.1,1752.1 485.5,1751.5 485.5,1751.5C485.5,1751.5 487.7,1744.9 487.7,1738.2C487.7,1730.6 488.8,1730.0 485.5,1723.1C482.6,1717.1 481.5,1717.4 476.0,1713.7C470.9,1710.2 464.7,1709.0 464.7,1709.0C464.7,1709.0 471.6,1703.4 479.8,1701.4C487.1,1699.6 487.8,1698.9 494.9,1701.4C500.9,1703.5 499.0,1706.5 504.4,1709.9C508.1,1712.3 512.9,1712.7 512.9,1712.7C512.9,1712.7 515.3,1707.6 514.7,1702.3C513.9,1694.5 513.0,1694.6 510.0,1687.2C506.8,1679.4 506.9,1679.3 502.5,1672.1C498.4,1665.5 493.0,1659.8 493.0,1659.8Z" fill="#0a6bd6"/>
<path d="M444.8,1720.3C444.8,1720.3 439.7,1717.7 434.5,1718.4C428.8,1719.2 428.1,1719.1 424.1,1723.1C419.6,1727.6 419.2,1728.2 418.4,1734.5C417.7,1740.3 421.2,1745.8 421.2,1745.8C421.2,1745.8 416.8,1742.8 411.8,1742.0C404.3,1740.9 404.0,1740.1 396.7,1742.0C389.3,1744.0 389.0,1744.3 383.5,1749.6C378.7,1754.1 379.0,1754.7 376.8,1760.9C374.7,1767.2 374.9,1774.1 374.9,1774.1C374.9,1774.1 379.0,1768.0 385.3,1765.6C392.4,1763.0 393.1,1763.1 400.5,1764.7C408.7,1766.5 409.1,1766.8 415.6,1772.2C421.8,1777.5 425.0,1785.5 425.0,1785.5C425.0,1785.5 415.5,1784.6 406.1,1785.5C394.7,1786.5 394.4,1785.8 383.5,1789.2C373.4,1792.4 372.7,1792.0 364.6,1798.7C358.5,1803.7 358.8,1804.5 356.1,1811.9C353.4,1819.1 352.5,1819.6 354.2,1827.0C356.0,1835.5 355.9,1836.7 362.7,1842.1C371.4,1849.2 383.5,1850.6 383.5,1850.6C383.5,1850.6 379.4,1844.9 377.8,1838.4C376.5,1832.9 375.1,1832.0 377.8,1827.0C380.5,1821.9 381.7,1822.1 387.2,1820.4C396.3,1817.7 396.7,1817.5 406.1,1818.5C414.1,1819.4 414.9,1821.7 421.2,1824.2C423.2,1825.0 425.0,1826.1 425.0,1826.1C425.0,1826.1 430.7,1828.3 434.5,1832.7C438.5,1837.5 438.2,1838.0 440.1,1844.0C441.6,1848.6 441.1,1853.5 441.1,1853.5C441.1,1853.5 442.0,1860.8 445.8,1866.7C448.4,1870.7 453.4,1872.4 453.4,1872.4C453.4,1872.4 462.7,1879.1 472.2,1885.6C480.7,1891.4 489.2,1896.9 489.2,1896.9L519.5,1800.6C519.5,1800.6 509.6,1800.3 502.5,1794.9C497.4,1791.1 498.1,1789.8 496.8,1783.6C495.2,1776.2 498.4,1775.9 496.8,1768.5C495.5,1762.3 494.9,1762.2 491.1,1757.1C489.1,1754.4 485.5,1753.4 485.5,1753.4C485.5,1753.4 483.5,1761.3 479.8,1768.5C476.8,1774.2 477.3,1774.9 472.2,1778.9C468.4,1781.9 462.8,1781.7 462.8,1781.7C462.8,1781.7 458.1,1778.8 453.4,1776.0C448.2,1773.1 443.0,1770.4 443.0,1770.4C443.0,1770.4 440.1,1765.9 438.2,1760.9C435.5,1753.5 434.9,1753.6 433.9,1745.8C433.0,1739.2 433.0,1739.0 434.5,1732.6C435.3,1728.9 435.8,1728.9 438.2,1726.0C441.1,1722.6 444.8,1720.3 444.8,1720.3Z" fill="#0653a3"/>
<path d="M400.5,1865.8C400.5,1865.8 410.0,1864.3 419.3,1862.0C427.0,1860.1 427.2,1860.1 434.5,1857.3C438.0,1855.9 441.1,1853.5 441.1,1853.5C441.1,1853.5 442.0,1860.8 445.8,1866.7C448.4,1870.7 453.4,1872.4 453.4,1872.4C453.4,1872.4 446.0,1875.9 438.2,1876.1C428.7,1876.4 428.6,1875.8 419.3,1873.3C409.5,1870.6 400.5,1865.8 400.5,1865.8Z" fill="#0a6bd6"/>
<path d="M410.8,1848.8C410.8,1848.8 410.5,1842.3 412.7,1836.5C414.8,1831.1 414.8,1830.5 419.3,1827.0C423.3,1824.0 423.9,1824.5 428.8,1824.2C431.8,1824.0 434.5,1826.1 434.5,1826.1C434.5,1826.1 429.3,1827.7 425.0,1830.8C420.7,1833.9 420.8,1834.2 417.5,1838.4C413.6,1843.2 410.8,1848.8 410.8,1848.8Z" fill="#0a6bd6"/>
<path d="M317.6,1928.7C318.7,1925.9 322.7,1925.6 322.7,1925.6L431.0,1892.9L487.7,1894.2L463.7,1971.0L454.2,1972.5L318.9,1935.7C318.9,1935.7 316.4,1932.0 317.6,1928.7Z" fill="#a9adb8"/>
<path d="M318.1,1931.2 L454.2,1968.5 L456.2,1975.0 L320.2,1938.7Z" fill="#999da6"/>
<path d="M390.7,1923.1C404.1,1916.4 409.5,1909.9 431.0,1903.0C445.4,1898.3 451.1,1901.3 461.2,1900.5 M418.4,1931.9C427.6,1926.5 431.1,1921.5 446.1,1915.6C455.5,1911.8 459.5,1913.9 466.2,1913.0 M431.0,1903.0C441.1,1914.7 451.1,1926.5 461.2,1938.2 M441.1,1898.4C448.6,1906.7 456.2,1914.9 463.7,1923.1" fill="none" stroke="#bcc0c9" stroke-width="0.9"/>
<path d="M453.4,1872.4C453.4,1872.4 449.5,1878.6 447.7,1885.6C445.7,1893.0 445.4,1893.1 445.8,1900.7C446.3,1910.3 449.6,1919.6 449.6,1919.6C449.6,1919.6 452.0,1911.2 457.1,1904.5C461.6,1898.6 461.5,1897.5 468.5,1895.0C478.3,1891.6 489.2,1893.2 489.2,1893.2C489.2,1893.2 480.7,1888.6 472.2,1883.7C462.7,1878.2 453.4,1872.4 453.4,1872.4Z" fill="#0a6bd6"/>
<path d="M513.6,1803.9C513.6,1803.9 513.1,1799.9 515.4,1797.6C517.7,1795.3 521.7,1795.8 521.7,1795.8L672.8,1773.1C672.8,1773.1 677.0,1771.7 679.1,1774.2C681.8,1777.3 680.9,1782.5 680.9,1782.5L630.5,1928.7L628.7,1931.2L509.1,1962.7L473.8,1972.7L455.7,1974.0L513.6,1803.9Z" fill="#a9adb8"/>
<path d="M513.6,1803.9 L516.1,1797.8 L521.7,1795.8 L525.4,1796.8 L465.0,1972.5 L455.7,1974.0Z" fill="#999da6"/>
<path d="M305.0,1899.2C305.4,1889.6 304.3,1886.3 312.6,1881.6C327.7,1872.9 331.3,1876.6 350.4,1873.2C366.6,1870.3 366.6,1868.3 383.1,1869.0C392.5,1869.3 392.8,1870.4 400.8,1875.3C410.7,1881.3 409.9,1882.4 418.4,1890.4C426.3,1897.8 427.8,1898.4 433.5,1906.0C435.7,1908.9 435.5,1913.0 435.5,1913.0L427.2,1915.1L425.9,1926.9C425.9,1926.9 423.4,1929.6 420.9,1928.7C416.3,1927.0 412.1,1921.9 412.1,1921.9L414.6,1931.2C414.6,1931.2 411.3,1934.6 408.3,1933.2C403.3,1930.9 399.5,1924.4 399.5,1924.4L390.7,1929.4C390.7,1929.4 387.3,1933.1 385.1,1931.2C380.9,1927.6 381.6,1924.9 378.1,1918.6C374.6,1912.3 371.0,1906.0 371.0,1906.0C371.0,1906.0 361.2,1912.0 350.4,1915.6C338.1,1919.6 338.1,1921.1 325.2,1921.1C317.7,1921.1 316.4,1921.1 311.3,1915.6C305.4,1909.1 304.7,1908.0 305.0,1899.2Z" fill="#ffdcb9"/>
<path d="M393.7,1885.8C400.3,1890.0 403.9,1891.5 413.4,1898.4C422.9,1905.4 425.4,1908.5 431.5,1913.6 M383.1,1894.2C389.8,1898.6 393.8,1900.0 403.3,1907.5C411.5,1913.9 413.4,1917.1 418.4,1921.9" fill="none" stroke="#e3b58e" stroke-width="1.3" stroke-linecap="round"/>
</g>
<g id="bugs">
<g transform="translate(1437.3,520.7) rotate(0) scale(2.420)"><path d="M0,-11 C0.8,-14 -1.6,-15.5 -1.3,-19.3 M-8.3,-6 C-12,-8.5 -12.6,-11 -10.8,-15.9 M5.3,-10.2 C7,-13.5 9.5,-13 10.8,-16.4 M10,-1.2 C14,-1.5 15.8,-3.5 16.6,-8 M9.8,3.2 L16.6,5.3 M8,6.2 C11.5,8.5 12,11.5 10,15.7 M-9.8,-2.4 L-18.4,-4.6 M-9.8,1.4 C-14,1.5 -16,3.5 -17.1,8.3" fill="none" stroke="#1f1f1f" stroke-width="1.5" stroke-linecap="round"/><circle r="10" fill="#f23a44"/><g transform="rotate(12)"><path d="M0,-10 A10,10 0 0 1 0,10 Z" fill="#d42424"/><path d="M-8.15,-5.8 A10,10 0 0 1 8.15,-5.8 Z" fill="#2b2f30"/></g></g>
<g transform="translate(91.0,1232.5) rotate(-47) scale(1.730)"><path d="M0,-11 C0.8,-14 -1.6,-15.5 -1.3,-19.3 M-8.3,-6 C-12,-8.5 -12.6,-11 -10.8,-15.9 M5.3,-10.2 C7,-13.5 9.5,-13 10.8,-16.4 M10,-1.2 C14,-1.5 15.8,-3.5 16.6,-8 M9.8,3.2 L16.6,5.3 M8,6.2 C11.5,8.5 12,11.5 10,15.7 M-9.8,-2.4 L-18.4,-4.6 M-9.8,1.4 C-14,1.5 -16,3.5 -17.1,8.3" fill="none" stroke="#1f1f1f" stroke-width="1.5" stroke-linecap="round"/><circle r="10" fill="#f23a44"/><g transform="rotate(12)"><path d="M0,-10 A10,10 0 0 1 0,10 Z" fill="#d42424"/><path d="M-8.15,-5.8 A10,10 0 0 1 8.15,-5.8 Z" fill="#2b2f30"/></g></g>
<g transform="translate(470.4,1472.9) rotate(-45) scale(1.760)"><path d="M0,-11 C0.8,-14 -1.6,-15.5 -1.3,-19.3 M-8.3,-6 C-12,-8.5 -12.6,-11 -10.8,-15.9 M5.3,-10.2 C7,-13.5 9.5,-13 10.8,-16.4 M10,-1.2 C14,-1.5 15.8,-3.5 16.6,-8 M9.8,3.2 L16.6,5.3 M8,6.2 C11.5,8.5 12,11.5 10,15.7 M-9.8,-2.4 L-18.4,-4.6 M-9.8,1.4 C-14,1.5 -16,3.5 -17.1,8.3" fill="none" stroke="#1f1f1f" stroke-width="1.5" stroke-linecap="round"/><circle r="10" fill="#f23a44"/><g transform="rotate(12)"><path d="M0,-10 A10,10 0 0 1 0,10 Z" fill="#d42424"/><path d="M-8.15,-5.8 A10,10 0 0 1 8.15,-5.8 Z" fill="#2b2f30"/></g></g>
<g transform="translate(626.7,1629.9) rotate(17) scale(1.730)"><path d="M0,-11 C0.8,-14 -1.6,-15.5 -1.3,-19.3 M-8.3,-6 C-12,-8.5 -12.6,-11 -10.8,-15.9 M5.3,-10.2 C7,-13.5 9.5,-13 10.8,-16.4 M10,-1.2 C14,-1.5 15.8,-3.5 16.6,-8 M9.8,3.2 L16.6,5.3 M8,6.2 C11.5,8.5 12,11.5 10,15.7 M-9.8,-2.4 L-18.4,-4.6 M-9.8,1.4 C-14,1.5 -16,3.5 -17.1,8.3" fill="none" stroke="#1f1f1f" stroke-width="1.5" stroke-linecap="round"/><circle r="10" fill="#f23a44"/><g transform="rotate(12)"><path d="M0,-10 A10,10 0 0 1 0,10 Z" fill="#d42424"/><path d="M-8.15,-5.8 A10,10 0 0 1 8.15,-5.8 Z" fill="#2b2f30"/></g></g>
<g transform="translate(467.5,1819.5) rotate(-47) scale(1.500)"><path d="M0,-11 C0.8,-14 -1.6,-15.5 -1.3,-19.3 M-8.3,-6 C-12,-8.5 -12.6,-11 -10.8,-15.9 M5.3,-10.2 C7,-13.5 9.5,-13 10.8,-16.4 M10,-1.2 C14,-1.5 15.8,-3.5 16.6,-8 M9.8,3.2 L16.6,5.3 M8,6.2 C11.5,8.5 12,11.5 10,15.7 M-9.8,-2.4 L-18.4,-4.6 M-9.8,1.4 C-14,1.5 -16,3.5 -17.1,8.3" fill="none" stroke="#1f1f1f" stroke-width="1.5" stroke-linecap="round"/><circle r="10" fill="#f23a44"/><g transform="rotate(12)"><path d="M0,-10 A10,10 0 0 1 0,10 Z" fill="#d42424"/><path d="M-8.15,-5.8 A10,10 0 0 1 8.15,-5.8 Z" fill="#2b2f30"/></g></g>
<g transform="translate(490.7,1582.6) rotate(-9.6) scale(1.440,1.410)"><path d="M0,-21 Q0,-23 -1.5,-21 L-26,18.5 Q-27.5,22 -24,22 H0 Z" fill="#ee3a43"/><path d="M0,-21 Q0,-23 1.5,-21 L26,18.5 Q27.5,22 24,22 H0 Z" fill="#d42424"/><path d="M-1.5,-21 Q0,-23.5 1.5,-21 L0,0 Z" fill="#d42424"/><path d="M-3.1,-13.5 Q-3.2,-15 0,-15 Q3.2,-15 3.1,-13.5 L2.1,6.5 Q2,8.3 0,8.3 Q-2,8.3 -2.1,6.5 Z" fill="#fff"/><circle cx="0" cy="14.3" r="3.1" fill="#fff"/></g>
<g transform="translate(685.3,1400.2) rotate(0) scale(1.000,1.000)"><path d="M0,-21 Q0,-23 -1.5,-21 L-26,18.5 Q-27.5,22 -24,22 H0 Z" fill="#ee3a43"/><path d="M0,-21 Q0,-23 1.5,-21 L26,18.5 Q27.5,22 24,22 H0 Z" fill="#d42424"/><path d="M-1.5,-21 Q0,-23.5 1.5,-21 L0,0 Z" fill="#d42424"/><path d="M-3.1,-13.5 Q-3.2,-15 0,-15 Q3.2,-15 3.1,-13.5 L2.1,6.5 Q2,8.3 0,8.3 Q-2,8.3 -2.1,6.5 Z" fill="#fff"/><circle cx="0" cy="14.3" r="3.1" fill="#fff"/></g>
<g transform="translate(1408.0,1400.2) rotate(0) scale(1.000,1.000)"><path d="M0,-21 Q0,-23 -1.5,-21 L-26,18.5 Q-27.5,22 -24,22 H0 Z" fill="#ee3a43"/><path d="M0,-21 Q0,-23 1.5,-21 L26,18.5 Q27.5,22 24,22 H0 Z" fill="#d42424"/><path d="M-1.5,-21 Q0,-23.5 1.5,-21 L0,0 Z" fill="#d42424"/><path d="M-3.1,-13.5 Q-3.2,-15 0,-15 Q3.2,-15 3.1,-13.5 L2.1,6.5 Q2,8.3 0,8.3 Q-2,8.3 -2.1,6.5 Z" fill="#fff"/><circle cx="0" cy="14.3" r="3.1" fill="#fff"/></g>
<g transform="translate(596.5,1712.5) rotate(34) scale(1.000,1.000)"><path d="M0,-21 Q0,-23 -1.5,-21 L-26,18.5 Q-27.5,22 -24,22 H0 Z" fill="#ee3a43"/><path d="M0,-21 Q0,-23 1.5,-21 L26,18.5 Q27.5,22 24,22 H0 Z" fill="#d42424"/><path d="M-1.5,-21 Q0,-23.5 1.5,-21 L0,0 Z" fill="#d42424"/><path d="M-3.1,-13.5 Q-3.2,-15 0,-15 Q3.2,-15 3.1,-13.5 L2.1,6.5 Q2,8.3 0,8.3 Q-2,8.3 -2.1,6.5 Z" fill="#fff"/><circle cx="0" cy="14.3" r="3.1" fill="#fff"/></g>
<g transform="translate(443.0,1686.5) rotate(25.7) scale(1.410)"><path d="M-5.5,-7 V-11 A5.5,5.5 0 0 1 5.500,-11 V-7" fill="none" stroke="#d42424" stroke-width="3"/><rect x="-10" y="-8" width="20" height="17" rx="1.5" fill="#d42424"/><circle cx="0" cy="-0.5" r="2.4" fill="#fff"/><path d="M-1.2,0 H1.2 L0.9,4.5 H-0.9 Z" fill="#fff"/></g>
<g transform="translate(541.6,1771.5) rotate(-25) scale(0.680)"><path d="M-5.5,-7 V-11 A5.5,5.5 0 0 1 5.500,-11 V-7" fill="none" stroke="#d42424" stroke-width="3"/><rect x="-10" y="-8" width="20" height="17" rx="1.5" fill="#d42424"/><circle cx="0" cy="-0.5" r="2.4" fill="#fff"/><path d="M-1.2,0 H1.2 L0.9,4.5 H-0.9 Z" fill="#fff"/></g>
</g>
<g id="heads">
<text id="t_main" x="0" y="0" font-family="'Liberation Sans','DejaVu Sans',sans-serif" font-weight="700" font-size="48.88" letter-spacing="2.2" word-spacing="3" fill="#e21a1c" filter="url(#fatx)" transform="translate(567.8,325.4) scale(0.6563,1)">ВИДЫ ОПАСНЫХ САЙТОВ</text>
<text id="t_cons" x="0" y="0" font-family="'Liberation Sans','DejaVu Sans',sans-serif" font-weight="700" font-size="34.92" letter-spacing="1.6" word-spacing="1" fill="#e21a1c" filter="url(#fatx)" transform="translate(363.7,896.3) scale(0.6932,1)">ВОЗМОЖНЫЕ ПОСЛЕДСТВИЯ ИСПОЛЬЗОВАНИЯ ОПАСНЫХ САЙТОВ</text>
<text id="t_sign" x="0" y="0" font-family="'Liberation Sans','DejaVu Sans',sans-serif" font-weight="700" font-size="36.73" letter-spacing="1.6" word-spacing="1" fill="#e21a1c" filter="url(#fatx)" transform="translate(738.0,1422.0) scale(0.6540,1)">ПРИЗНАКИ ПОТЕНЦИАЛЬНО ОПАСНОГО САЙТА</text>
<text id="t_foot" x="0" y="0" font-family="'Liberation Sans','DejaVu Sans',sans-serif" font-weight="700" font-size="35.61" letter-spacing="1.6" word-spacing="1" fill="#0a4f9e" filter="url(#fatx2)" transform="translate(389.0,2209.6) scale(0.6655,1)">ПРАВИЛА ЦИФРОВОЙ БЕЗОПАСНОСТИ. УГРОЗЫ В ИНТЕРНЕТЕ</text>
<text id="t_site" x="0" y="0" font-family="'Liberation Sans','DejaVu Sans',sans-serif" font-weight="700" font-size="34.22" letter-spacing="1.0" fill="#1aa0ee" transform="translate(53.0,2209.6) scale(0.6733,1)">asiz.ru</text>
<text id="t_ser" x="0" y="0" font-family="'Liberation Sans','DejaVu Sans',sans-serif" font-weight="700" font-size="32.40" letter-spacing="1.0" word-spacing="2" fill="#1aa0ee" transform="translate(1338.0,2209.6) scale(0.6274,1)">Серия Ц-2 стр. 2/2</text>
<text id="t_logo" x="0" y="0" font-family="'Liberation Sans','DejaVu Sans',sans-serif" font-weight="700" font-size="26.26" letter-spacing="2.5" word-spacing="2" fill="#0a4f9e" transform="translate(722.7,116.7) scale(0.7249,1)">АССОЦИАЦИЯ СИЗ</text>
</g>
</svg>
</body>
</html>
